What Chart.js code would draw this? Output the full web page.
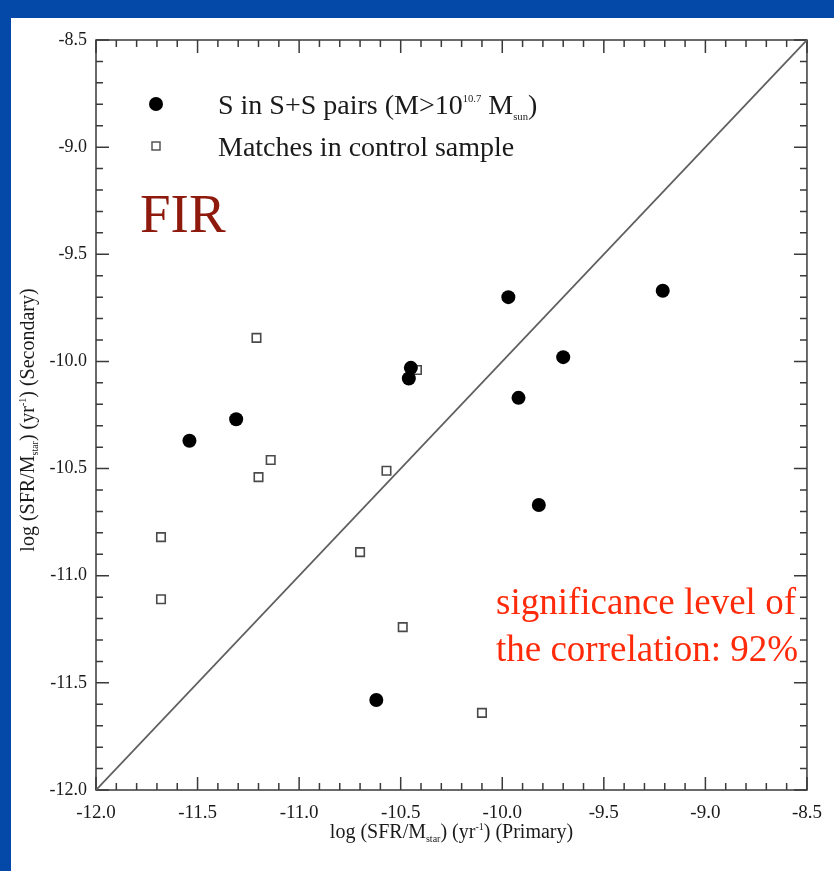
<!DOCTYPE html>
<html>
<head>
<meta charset="utf-8">
<script src="https://cdn.jsdelivr.net/npm/chart.js@4/dist/chart.umd.min.js"></script>
<style>
  html, body { margin: 0; padding: 0; }
  body { width: 834px; height: 871px; background: #0448a8; position: relative; overflow: hidden; }
  #panel { position: absolute; left: 11px; top: 18px; right: 0; bottom: 0; background: #fff; }
  #sfrChart { position: absolute; left: 0; top: 0; }
</style>
</head>
<body>
<div id="panel"></div>
<canvas id="sfrChart" width="834" height="871"></canvas>
<script>
// S in S+S pairs (filled circles)
const pairPrimary   = [-11.54, -11.31, -10.45, -10.46, -9.97, -9.70, -9.92, -9.82, -9.21, -10.62]
const pairSecondary = [-10.37, -10.27, -10.03, -10.08, -9.70, -9.98, -10.17, -10.67, -9.67, -11.58]

// matches in control sample (open squares)
const controlPrimary   = [-11.21, -11.14, -11.20, -11.68, -11.68, -10.57, -10.70, -10.42, -10.49, -10.10]
const controlSecondary = [-9.89, -10.46, -10.54, -10.82, -11.11, -10.51, -10.89, -10.04, -11.24, -11.64]

// one-to-one line
const diagonal = [-12.0, -8.5]

const tickValues = [-12.0, -11.5, -11.0, -10.5, -10.0, -9.5, -9.0, -8.5]

const serif = "'Liberation Serif', 'Times New Roman', serif"

const toPoints = (xs, ys) => xs.map((v, i) => ({ x: v, y: ys[i] }))

// text with sub/superscript pieces, drawn left to right from x
const richWidth = (ctx, parts, size, k) => parts.reduce((w, p) => {
    ctx.font = (p.sub || p.sup ? size * k : size) + 'px ' + serif
    return w + ctx.measureText(p.t).width
}, 0)

const drawRich = (ctx, parts, x, y, size, k) => {
    parts.forEach(p => {
        const s = p.sub || p.sup ? size * k : size
        ctx.font = s + 'px ' + serif
        const dy = p.sub ? size * 0.2 : p.sup ? -size * 0.42 : 0
        ctx.fillText(p.t, x, y + dy)
        x += ctx.measureText(p.t).width
    })
}

const xTitle = [{ t: 'log (SFR/M' }, { t: 'star', sub: true }, { t: ') (yr' }, { t: '-1', sup: true }, { t: ') (Primary)' }]
const yTitle = [{ t: 'log (SFR/M' }, { t: 'star', sub: true }, { t: ') (yr' }, { t: '-1', sup: true }, { t: ') (Secondary)' }]
const pairLabel = [{ t: 'S in S+S pairs (M>10' }, { t: '10.7', sup: true }, { t: ' M' }, { t: 'sun', sub: true }, { t: ')' }]
const controlLabel = [{ t: 'Matches in control sample' }]

const frame = {
    id: 'frame',
    beforeDatasetsDraw(chart) {
        const { ctx, chartArea: a, scales: { x, y } } = chart
        ctx.save()
        ctx.strokeStyle = '#3a3a3a'
        ctx.lineWidth = 1.5
        ctx.strokeRect(a.left, a.top, a.right - a.left, a.bottom - a.top)
        for (let i = 0; i <= 35; i++) {
            const v = -12 + i / 10
            const len = i % 5 === 0 ? 13 : 7
            const px = x.getPixelForValue(v)
            const py = y.getPixelForValue(v)
            ctx.beginPath()
            ctx.moveTo(px, a.bottom); ctx.lineTo(px, a.bottom - len)
            ctx.moveTo(px, a.top); ctx.lineTo(px, a.top + len)
            ctx.moveTo(a.left, py); ctx.lineTo(a.left + len, py)
            ctx.moveTo(a.right, py); ctx.lineTo(a.right - len, py)
            ctx.stroke()
        }
        ctx.restore()
    },
    afterDraw(chart) {
        const { ctx, chartArea: a } = chart
        ctx.save()
        ctx.fillStyle = '#1a1a1a'
        ctx.textBaseline = 'alphabetic'

        // axis titles
        const ts = 20
        const xw = richWidth(ctx, xTitle, ts, 0.5)
        drawRich(ctx, xTitle, (a.left + a.right) / 2 - xw / 2, 838, ts, 0.5)
        const yw = richWidth(ctx, yTitle, ts, 0.5)
        ctx.save()
        ctx.translate(34, (a.top + a.bottom) / 2 + 5)
        ctx.rotate(-Math.PI / 2)
        drawRich(ctx, yTitle, -yw / 2, 0, ts, 0.5)
        ctx.restore()

        // legend
        ctx.beginPath()
        ctx.arc(156, 104, 7, 0, Math.PI * 2)
        ctx.fillStyle = '#000'
        ctx.fill()
        ctx.fillStyle = '#fff'
        ctx.strokeStyle = '#555'
        ctx.lineWidth = 1.5
        ctx.fillRect(152, 142, 8, 8)
        ctx.strokeRect(152, 142, 8, 8)
        ctx.fillStyle = '#1a1a1a'
        drawRich(ctx, pairLabel, 218, 114, 28, 0.38)
        drawRich(ctx, controlLabel, 218, 156, 28, 0.38)

        // annotations
        ctx.fillStyle = '#8e1a0e'
        ctx.font = '55px ' + serif
        ctx.fillText('FIR', 140, 232)
        ctx.fillStyle = '#ff2a0a'
        ctx.font = '37px ' + serif
        ctx.fillText('significance level of', 496, 614)
        ctx.fillText('the correlation: 92%', 496, 661)
        ctx.restore()
    }
}

const buildTicks = scale => { scale.ticks = tickValues.map(v => ({ value: v })) }

const ctx = document.getElementById('sfrChart')
new Chart(ctx, {
    type: 'scatter',
    data: {
        datasets: [{
            type: 'line',
            data: toPoints(diagonal, diagonal),
            borderColor: '#5f5f5f',
            borderWidth: 1.8,
            pointRadius: 0,
            order: 3
        }, {
            label: 'S in S+S pairs',
            data: toPoints(pairPrimary, pairSecondary),
            pointStyle: 'circle',
            radius: 7,
            backgroundColor: '#000',
            borderColor: '#000',
            borderWidth: 0,
            order: 1
        }, {
            label: 'Matches in control sample',
            data: toPoints(controlPrimary, controlSecondary),
            pointStyle: 'rect',
            radius: 6,
            backgroundColor: '#fff',
            borderColor: '#4a4a4a',
            borderWidth: 1.6,
            order: 2
        }]
    },
    options: {
        responsive: false,
        animation: false,
        events: [],
        layout: { padding: { left: 16, top: 40, right: 25, bottom: 21 } },
        plugins: {
            legend: { display: false },
            tooltip: { enabled: false }
        },
        scales: {
            x: {
                type: 'linear',
                min: -12,
                max: -8.5,
                afterBuildTicks: buildTicks,
                afterFit: s => { s.height = 60 },
                grid: { drawOnChartArea: false, drawTicks: false },
                border: { display: false },
                ticks: {
                    callback: v => v.toFixed(1),
                    font: { family: serif, size: 19 },
                    color: '#1a1a1a',
                    padding: 12,
                    maxRotation: 0,
                    autoSkip: false
                }
            },
            y: {
                type: 'linear',
                min: -12,
                max: -8.5,
                afterBuildTicks: buildTicks,
                afterFit: s => { s.width = 80 },
                grid: { drawOnChartArea: false, drawTicks: false },
                border: { display: false },
                ticks: {
                    callback: v => v.toFixed(1),
                    font: { family: serif, size: 18 },
                    color: '#1a1a1a',
                    padding: 9,
                    autoSkip: false
                }
            }
        }
    },
    plugins: [frame]
})
</script>
</body>
</html>
